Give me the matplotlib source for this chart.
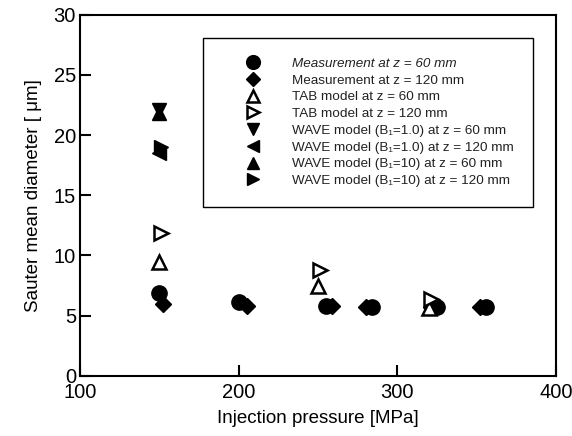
import matplotlib
matplotlib.use("Agg")
import matplotlib.pyplot as plt

plt.rcParams['font.family'] = ['Liberation Sans', 'DejaVu Sans']

# ---------- data ----------
meas60_x = [150, 200, 255, 284, 325, 356]
meas60_y = [6.9, 6.1, 5.8, 5.7, 5.7, 5.7]
meas120_x = [152, 205, 259, 280, 321, 352]
meas120_y = [6.0, 5.8, 5.8, 5.7, 5.7, 5.7]
tab60_x = [150, 250, 320]
tab60_y = [9.5, 7.5, 5.6]
tab120_x = [151, 251, 321]
tab120_y = [11.9, 8.8, 6.4]
wave1_60_x, wave1_60_y = [150], [22.1]
wave1_120_x, wave1_120_y = [150], [18.5]
wave10_60_x, wave10_60_y = [150], [21.8]
wave10_120_x, wave10_120_y = [151], [19.0]

labels = [
    "Measurement at z = 60 mm",
    "Measurement at z = 120 mm",
    "TAB model at z = 60 mm",
    "TAB model at z = 120 mm",
    "WAVE model (B\u2081=1.0) at z = 60 mm",
    "WAVE model (B\u2081=1.0) at z = 120 mm",
    "WAVE model (B\u2081=10) at z = 60 mm",
    "WAVE model (B\u2081=10) at z = 120 mm",
]

fig = plt.figure(figsize=(5.72, 4.36), dpi=100)
ax = fig.add_axes([0.140, 0.138, 0.832, 0.828])

ax.plot(meas60_x, meas60_y, 'o', color='black', ms=11, ls='none', label=labels[0])
ax.plot(meas120_x, meas120_y, 'D', color='black', ms=8, ls='none', label=labels[1])
ax.plot(tab60_x, tab60_y, '^', mfc='white', mec='black', mew=1.8, ms=10, ls='none', label=labels[2])
ax.plot(tab120_x, tab120_y, '>', mfc='white', mec='black', mew=1.8, ms=10, ls='none', label=labels[3])
ax.plot(wave1_60_x, wave1_60_y, 'v', color='black', ms=10, ls='none', label=labels[4])
ax.plot(wave1_120_x, wave1_120_y, '<', color='black', ms=10, ls='none', label=labels[5])
ax.plot(wave10_60_x, wave10_60_y, '^', color='black', ms=10, ls='none', label=labels[6])
ax.plot(wave10_120_x, wave10_120_y, '>', color='black', ms=10, ls='none', label=labels[7])

ax.set_xlim(100, 400)
ax.set_ylim(0, 30)
ax.set_xticks([100, 200, 300, 400])
ax.set_yticks([0, 5, 10, 15, 20, 25, 30])
ax.tick_params(direction='in', length=8, width=1.5, labelsize=14.5, pad=3)
ax.tick_params(axis='x', pad=5)
for s in ax.spines.values():
    s.set_linewidth(1.5)

ax.set_xlabel("Injection pressure [MPa]", fontsize=13.5, labelpad=6)
ax.set_ylabel("Sauter mean diameter [ \u03bcm]", fontsize=13.5, labelpad=8)

leg = ax.legend(loc='upper left', bbox_to_anchor=(0.258, 0.482, 0.694, 0.454),
                mode='expand', borderaxespad=0, fontsize=9.7, numpoints=1,
                markerscale=0.9, labelspacing=0.32, handlelength=4.55,
                handletextpad=0.63, borderpad=1.45, fancybox=False,
                edgecolor='black', framealpha=1)
leg.get_frame().set_linewidth(1.0)
leg.get_texts()[0].set_style('italic')
for t in leg.get_texts():
    t.set_color('#222222')

fig.savefig("out.png", dpi=100)
